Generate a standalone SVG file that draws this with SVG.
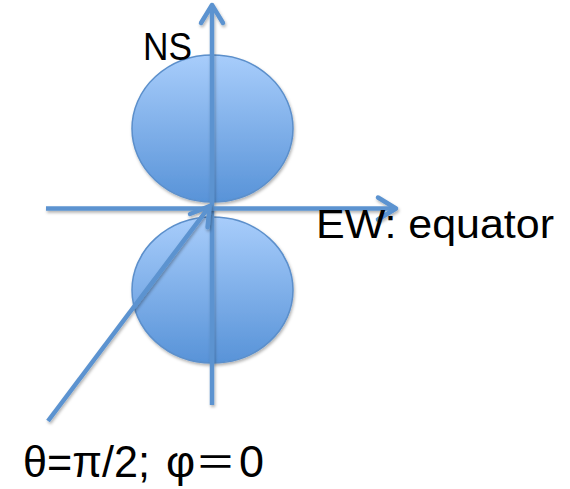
<svg xmlns="http://www.w3.org/2000/svg" width="570" height="489" viewBox="0 0 570 489">
  <style>
    .lbl { font-family: "Liberation Sans", Arial, sans-serif; fill: #000; }
    .lobe { fill: url(#lobeGrad); stroke: #5B8FCB; stroke-width: 1.5; filter: url(#shadow); }
    .axis { stroke: #5B93D0; stroke-width: 4.5; fill: none; filter: url(#shadow); }
  </style>
  <defs>
    <linearGradient id="lobeGrad" x1="0" y1="0" x2="0" y2="1">
      <stop offset="0" stop-color="#A8CDFB"/>
      <stop offset="1" stop-color="#5893D8"/>
    </linearGradient>
    <filter id="shadow" filterUnits="userSpaceOnUse" x="0" y="0" width="570" height="489">
      <feDropShadow dx="1" dy="2" stdDeviation="1.5" flood-color="#000" flood-opacity="0.3"/>
    </filter>
    <marker id="arrow" markerUnits="userSpaceOnUse" viewBox="-24 -16 30 32" markerWidth="30" markerHeight="32" refX="0" refY="0" orient="auto">
      <path d="M -17 -11 L 1 0 L -17 11" fill="none" stroke="#5B93D0" stroke-width="4.5" stroke-linecap="round" stroke-linejoin="round"/>
    </marker>
  </defs>

  <g id="lobe-north">
    <ellipse class="lobe" cx="212.5" cy="128.5" rx="80.5" ry="73.5"/>
  </g>
  <g id="lobe-south">
    <ellipse class="lobe" cx="212.5" cy="290" rx="80.5" ry="73"/>
  </g>

  <g id="connectors">
    <line id="axis-ns" class="axis" x1="212" y1="405" x2="212" y2="6" marker-end="url(#arrow)"/>
    <line id="axis-ew" class="axis" x1="46" y1="208.5" x2="395" y2="208.5" marker-end="url(#arrow)"/>
    <line id="axis-dir" class="axis" x1="48" y1="421" x2="209" y2="207" marker-end="url(#arrow)"/>
  </g>

  <g id="label-ns">
    <text class="lbl" x="143" y="60" font-size="39" textLength="49" lengthAdjust="spacingAndGlyphs">NS</text>
  </g>
  <g id="label-ew">
    <text class="lbl" x="316" y="238" font-size="40" textLength="238" lengthAdjust="spacingAndGlyphs">EW: equator</text>
  </g>
  <g id="label-angles">
    <text class="lbl" y="477" font-size="45"><tspan x="23" textLength="127" lengthAdjust="spacingAndGlyphs">θ=π/2;</tspan> <tspan x="166">φ</tspan><tspan x="195" font-size="41" font-family="'Noto Sans CJK JP', sans-serif">＝</tspan><tspan x="239">0</tspan></text>
  </g>
</svg>
